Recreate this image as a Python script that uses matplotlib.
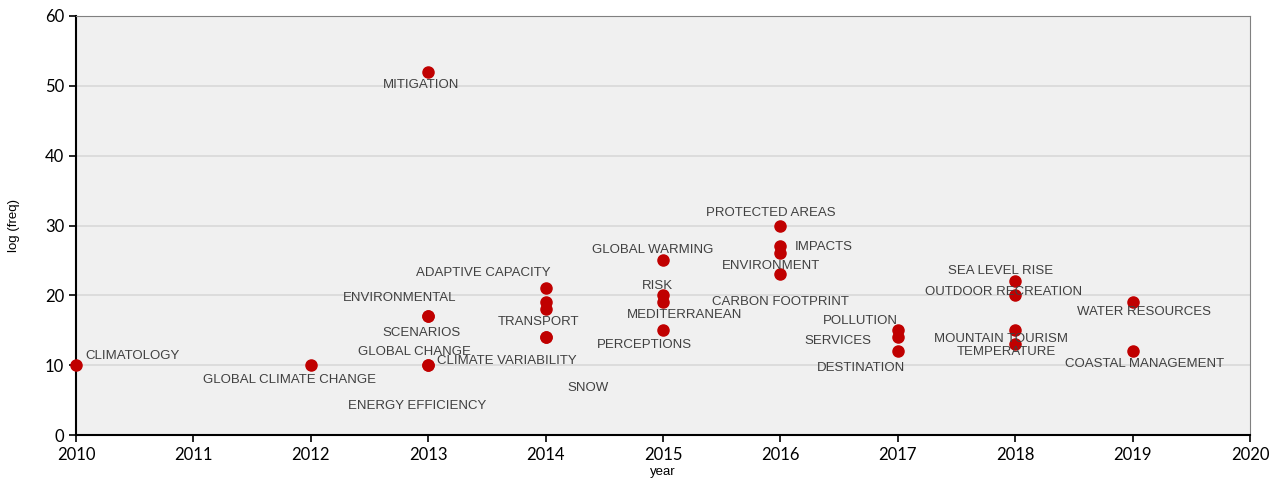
import matplotlib
matplotlib.use('Agg')
import matplotlib.pyplot as plt

# keyword occurrences by year
years = [2010, 2012, 2013, 2013, 2013, 2013, 2013,
         2014, 2014, 2014, 2014, 2014,
         2015, 2015, 2015, 2015,
         2016, 2016, 2016, 2016,
         2017, 2017, 2017,
         2018, 2018, 2018, 2018,
         2019, 2019]
freq = [10, 10, 52, 17, 17, 10, 10,
        21, 19, 18, 14, 14,
        25, 20, 19, 15,
        30, 27, 26, 23,
        15, 14, 12,
        22, 20, 15, 13,
        19, 12]
keywords = ['CLIMATOLOGY', 'GLOBAL CLIMATE CHANGE', 'MITIGATION', 'ENVIRONMENTAL',
            'SCENARIOS', 'GLOBAL CHANGE', 'ENERGY EFFICIENCY',
            'ADAPTIVE CAPACITY', '', 'TRANSPORT', 'CLIMATE VARIABILITY', 'SNOW',
            'GLOBAL WARMING', 'RISK', 'MEDITERRANEAN', 'PERCEPTIONS',
            'PROTECTED AREAS', 'IMPACTS', 'ENVIRONMENT', 'CARBON FOOTPRINT',
            'POLLUTION', 'SERVICES', 'DESTINATION',
            'SEA LEVEL RISE', 'OUTDOOR RECREATION', 'MOUNTAIN TOURISM', 'TEMPERATURE',
            'WATER RESOURCES', 'COASTAL MANAGEMENT']

# label offsets in pixels (dx, dy) from each point
offsets = [(56, 9), (-21, -15), (-7, -13), (-29, 18),
           (-7, -17), (-14, 13), (-11, -41),
           (-62, 15), (0, 0), (-7, -13), (-39, -24), (42, -51),
           (-10, 10), (-6, 9), (22, -13), (-19, -15),
           (-10, 12), (43, -1), (-9, -13), (0, -28),
           (-37, 9), (-60, -4), (-37, -17),
           (-15, 10), (-12, 3), (-14, -9), (-9, -8),
           (11, -10), (12, -13)]

fig = plt.figure(figsize=(12.81, 4.79), dpi=100)
ax = fig.add_axes([76/1281, 1 - 435/479, (1250-76)/1281, (435-16)/479])
ax.set_facecolor('#f0f0f0')

ax.plot(years, freq, 'o', color='#c00000', markersize=8, zorder=3, clip_on=False)

for x, y, lab, (dx, dy) in zip(years, freq, keywords, offsets):
    if lab:
        ax.annotate(lab, xy=(x, y), xytext=(dx, dy), textcoords='offset pixels',
                    ha='center', va='center', fontsize=9.5, color='#404040',
                    family='Liberation Sans', zorder=4)

ax.set_xlim(2010, 2020)
ax.set_ylim(0, 60)
ax.set_xticks(range(2010, 2021))
ax.set_yticks(range(0, 61, 10))
ax.yaxis.grid(True, color='#d9d9d9', linewidth=1.2)
ax.set_axisbelow(True)

for s in ['top', 'right']:
    ax.spines[s].set_color('#808080')
for s in ['left', 'bottom']:
    ax.spines[s].set_color('black')
    ax.spines[s].set_linewidth(1.5)

ax.tick_params(axis='both', direction='out', length=5, width=1.2, labelsize=12)
for t in ax.get_xticklabels() + ax.get_yticklabels():
    t.set_family('Lato')

ax.set_xlabel('year', fontsize=9.5, family='Liberation Sans', labelpad=2)
ax.set_ylabel('log (freq)', fontsize=9.5, family='Liberation Sans', labelpad=18)

fig.savefig('out.png', dpi=100)
